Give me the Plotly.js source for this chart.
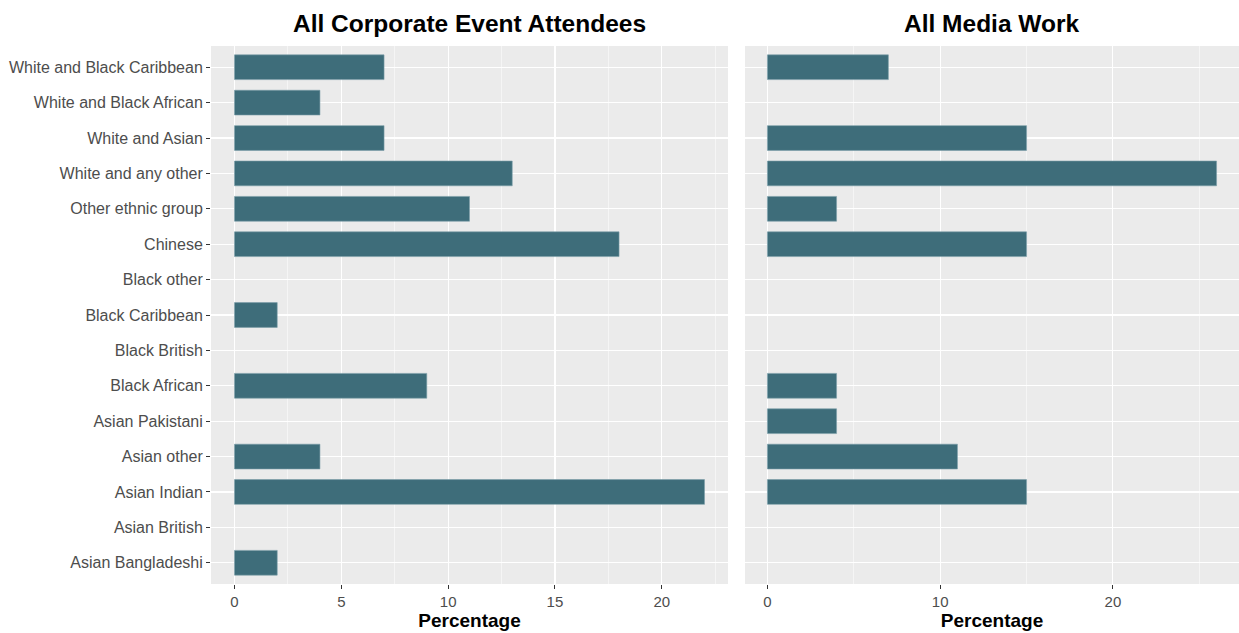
<!DOCTYPE html>
<html><head><meta charset="utf-8">
<script src="https://cdn.plot.ly/plotly-3.0.1.min.js"></script>
<style>html,body{margin:0;padding:0;background:#fff}#chart{width:1239px;height:633px}</style>
</head><body><div id="chart"></div>
<script>
const categories = ["Asian Bangladeshi","Asian British","Asian Indian","Asian other","Asian Pakistani","Black African","Black British","Black Caribbean","Black other","Chinese","Other ethnic group","White and any other","White and Asian","White and Black African","White and Black Caribbean"];
const corporateValues = [2, null, 22, 4, null, 9, null, 2, null, 18, 11, 13, 7, 4, 7];
const mediaValues = [null, null, 15, 11, 4, 4, null, null, null, 15, 4, 26, 15, null, 7];
const panelTitles = ["All Corporate Event Attendees", "All Media Work"];
const xTitle = "Percentage";

const barColor = "#3E6D7A";
const common = {type:"bar", orientation:"h", y:categories, width:0.7,
  marker:{color:barColor, line:{color:"#7a9ea8", width:0.6}}, hoverinfo:"x+y", showlegend:false};
const traces = [
  Object.assign({}, common, {x:corporateValues, xaxis:"x", yaxis:"y"}),
  Object.assign({}, common, {x:mediaValues, xaxis:"x2", yaxis:"y2"})
];
const W=1239, H=633;
const yDom=[(H-584)/H, (H-46)/H];
const font = "Liberation Sans, Arial, sans-serif";
const xBase = {showgrid:true, gridcolor:"#ffffff", gridwidth:1.1, zeroline:false, ticks:"outside", ticklen:4,
  tickcolor:"#333333", tickwidth:1, tickfont:{size:15, color:"#4D4D4D", family:font}, showline:false,
  title:{text:xTitle, font:{size:19, color:"#000", family:font, weight:"bold"}, standoff:4}};
const yBase = {type:"category", categoryorder:"array", categoryarray:categories, range:[-0.6,14.6],
  showgrid:true, gridcolor:"#ffffff", gridwidth:1.1, zeroline:false, showline:false, domain:yDom};
const layout = {
  width:W, height:H, margin:{l:0,r:0,t:0,b:0}, paper_bgcolor:"#ffffff", plot_bgcolor:"#EBEBEB",
  bargap:0, font:{family:font},
  xaxis: Object.assign({}, xBase, {domain:[211/W, 728/W], range:[-1.1,23.1], tickvals:[0,5,10,15,20],
    minor:{tickvals:[2.5,7.5,12.5,17.5,22.5], showgrid:true, gridcolor:"#ffffff", gridwidth:0.5, ticks:""}, anchor:"y"}),
  xaxis2: Object.assign({}, xBase, {domain:[745/W, 1239/W], range:[-1.3,27.3], tickvals:[0,10,20],
    minor:{tickvals:[5,15,25], showgrid:true, gridcolor:"#ffffff", gridwidth:0.5, ticks:""}, anchor:"y2"}),
  yaxis: Object.assign({}, yBase, {anchor:"x", ticks:"outside", ticklen:4, tickcolor:"#333333",
    tickfont:{size:16, color:"#4D4D4D", family:font}}),
  yaxis2: Object.assign({}, yBase, {anchor:"x2", showticklabels:false, ticks:""}),
  annotations:[
    {text:panelTitles[0], xref:"paper", yref:"paper", x:(211+728)/2/W, y:(H-23)/H, xanchor:"center", yanchor:"middle",
     showarrow:false, font:{size:24.5, color:"#000", family:font, weight:"bold"}},
    {text:panelTitles[1], xref:"paper", yref:"paper", x:(745+1239)/2/W, y:(H-23)/H, xanchor:"center", yanchor:"middle",
     showarrow:false, font:{size:24.5, color:"#000", family:font, weight:"bold"}}
  ]
};
Plotly.newPlot("chart", traces, layout, {displayModeBar:false, staticPlot:true});
</script></body></html>
